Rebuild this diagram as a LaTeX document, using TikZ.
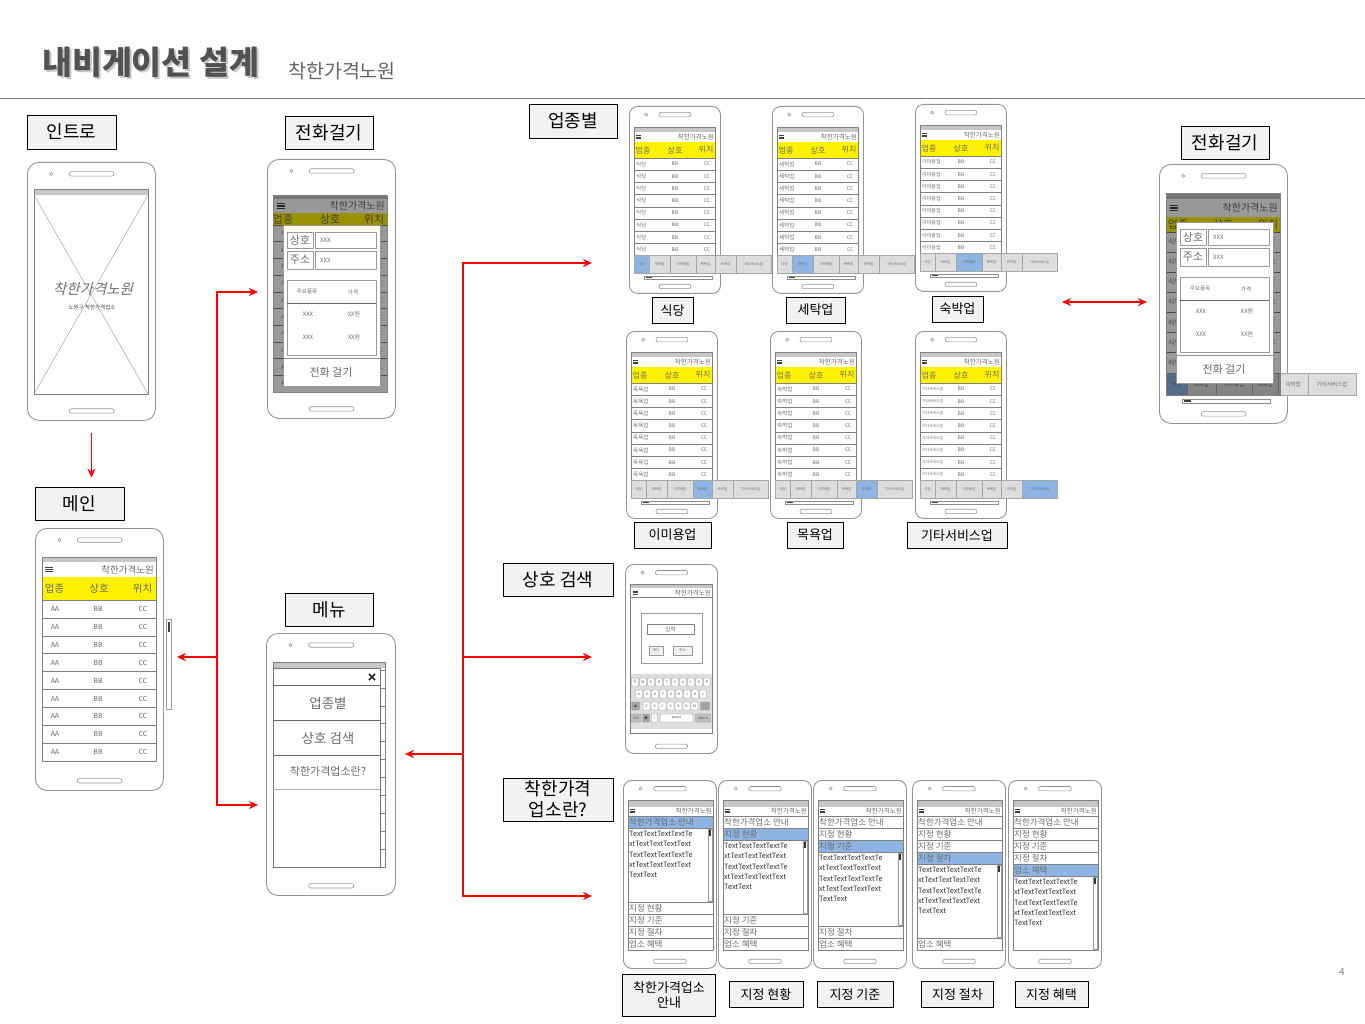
\documentclass[tikz,border=0pt]{standalone}
\usepackage{fontspec}
\setmainfont{Noto Sans CJK KR}
\newfontfamily\krslant[FakeSlant=0.25]{Noto Sans CJK KR}
\usetikzlibrary{arrows.meta, positioning}
\definecolor{hiblue}{RGB}{141,180,226}
\definecolor{tabgray}{RGB}{221,221,221}
\colorlet{framegray}{black!42}
\colorlet{txtgray}{black!58}
\newcommand{\kfs}[1]{\fontsize{#1}{#1}\selectfont}

\tikzset{
  tagbox/.style={draw=black, fill=black!5, line width=0.7pt, inner sep=0pt, align=center, font=\fontsize{18}{21}\selectfont},
  smalltag/.style={tagbox, font=\fontsize{13}{15}\selectfont},
  phonebody/.style={draw=framegray, line width=0.9pt, fill=white, inner sep=0pt},
  scr/.style={draw=black!50, line width=0.6pt},
  statbar/.style={fill=black!22},
  rowline/.style={draw=black!50, line width=0.5pt},
  rowtext/.style={text=txtgray, inner sep=0pt},
  keycap/.style={draw=black!45, fill=white, line width=0.3pt, rounded corners=0.8pt, minimum width=7pt, minimum height=8pt, inner sep=0pt, text=black!70, font=\kfs{3.5}},
  navtip/.tip={Stealth[length=9pt, width=8pt]},
  navline/.style={draw=red, line width=1.8pt},
  navarrow/.style={navline, -navtip},
}

% phone outline: name, x, y, width, height
\newcommand{\phoneframe}[5]{%
  \node[phonebody, rounded corners=#4*0.09pt, anchor=north west, minimum width=#4pt, minimum height=#5pt] (#1) at (#2,#3) {};
  \begin{scope}[shift={(#2,#3)}, framegray, line width=0.6pt]
    \draw (0.19*#4,0.046*#5) circle (1.6);
    \draw[rounded corners=2pt] (0.33*#4,0.046*#5-2.2) rectangle (0.68*#4,0.046*#5+2.2);
    \draw[rounded corners=2pt] (0.33*#4,0.965*#5-2.2) rectangle (0.68*#4,0.965*#5+2.2);
  \end{scope}}

% hamburger icon: x, y, width
\newcommand{\menuicon}[3]{%
  \draw[black!75, line width=#3*0.13pt] (#1,#2-#3*0.3) -- ++(#3,0) (#1,#2) -- ++(#3,0) (#1,#2+#3*0.3) -- ++(#3,0);}

% category tabs: x, top, bottom, scale, active tab, font size
\newcommand{\tabbar}[6]{%
  \foreach \t/\a/\b [count=\k] in {식당/0/15, 세탁업/15/36, 이미용업/36/62, 목욕업/62/81, 숙박업/81/102, 기타서비스업/102/137} {
    \ifnum\k=#5\relax\def\tabfill{hiblue}\else\def\tabfill{tabgray}\fi
    \draw[draw=black!35, fill=\tabfill, line width=0.4pt] (#1+#4*\a,#2) rectangle (#1+#4*\b,#3);
    \node[rowtext, font=\kfs{#6}] at (#1+#4*\a/2+#4*\b/2,#2/2+#3/2) {\t};
  }}

% shop popup: x, y
\newcommand{\calldialog}[2]{%
  \begin{scope}[shift={(#1,#2)}]
    \draw[black!40, fill=white, line width=0.5pt] (0,0) rectangle (97,161);
    \draw[black!40, line width=0.6pt] (4,7) rectangle (30,23) (32,7) rectangle (93,23)
      (4,26) rectangle (30,44) (32,26) rectangle (93,44) (4,55) rectangle (93,130);
    \draw[black!60, line width=0.6pt] (4,78) -- (93,78);
    \draw[black!45, line width=0.6pt] (0,133) -- (97,133);
    \node[rowtext, font=\kfs{11}] at (17,15) {상호};
    \node[rowtext, font=\kfs{11}] at (17,35) {주소};
    \foreach \y in {15,35} \node[rowtext, anchor=west, font=\kfs{6}] at (37,\y) {XXX};
    \node[rowtext, font=\kfs{5.5}] at (24,67) {주요품목};
    \node[rowtext, font=\kfs{5.5}] at (70,67) {가격};
    \foreach \y in {89,112} {
      \node[rowtext, font=\kfs{6}] at (25,\y) {XXX};
      \node[rowtext, font=\kfs{6}] at (71,\y) {XX원};
    }
    \node[rowtext, font=\kfs{11}] at (48,147) {전화 걸기};
  \end{scope}}

% category list phone: name, x, y, row text, active tab, row font size
\newcommand{\catphone}[6]{%
  \phoneframe{#1}{#2}{#3}{91}{187}
  \begin{scope}[shift={(#2,#3)}]
    \fill[statbar] (5,21) rectangle (86,26);
    \menuicon{7}{31}{5}
    \node[rowtext, anchor=east, font=\kfs{6.5}] at (85,31) {착한가격노원};
    \fill[yellow] (5,36) rectangle (86,52);
    \foreach \t/\x in {업종/14, 상호/46, 위치/77} \node[rowtext, font=\kfs{8}] at (\x,44) {\t};
    \foreach \i in {0,...,7} {
      \draw[rowline] (5,52+12.2*\i) -- (86,52+12.2*\i);
      \node[rowtext, anchor=west, font=\kfs{#6}] at (7,58.1+12.2*\i) {#4};
      \node[rowtext, font=\kfs{5}] at (46,58.1+12.2*\i) {BB};
      \node[rowtext, font=\kfs{5}] at (78,58.1+12.2*\i) {CC};
    }
    \draw[scr] (5,21) rectangle (86,149.6);
    \tabbar{5}{149.6}{167}{1}{#5}{3.5}
    \draw[black!45, line width=0.4pt] (15,170) rectangle (83,173);
    \fill[black!75] (17,170.8) rectangle (23,172.2);
  \end{scope}}

% info phone: name, x, y, open item
\newcommand{\infophone}[4]{%
  \phoneframe{#1}{#2}{#3}{93}{188}
  \begin{scope}[shift={(#2,#3)}]
    \fill[statbar] (5,20) rectangle (90,27);
    \menuicon{7}{31}{5}
    \node[rowtext, anchor=east, font=\kfs{6.5}] at (89,31) {착한가격노원};
    \foreach \t [count=\i] in {착한가격업소 안내, 지정 현황, 지정 기준, 지정 절차, 업소 혜택} {
      \pgfmathsetmacro\itemtop{36+12*(\i-1)+74*(\i>#4)}
      \ifnum\i=#4\relax\def\itemfill{hiblue}\else\def\itemfill{white}\fi
      \draw[rowline, fill=\itemfill] (5,\itemtop) rectangle (90,\itemtop+12);
      \node[rowtext, anchor=west, font=\kfs{8.5}] at (6,\itemtop+6) {\t};
    }
    \pgfmathsetmacro\areatop{36+12*#4}
    \node[anchor=north west, align=left, inner sep=0pt, text=black!80, font=\fontsize{7.3}{10.3}\selectfont] at (6,\areatop+3) {TextTextTextTextTe\\xtTextTextTextText\\TextTextTextTextTe\\xtTextTextTextText\\TextText};
    \draw[black!40, line width=0.4pt] (85.5,\areatop+1) rectangle (89,\areatop+73);
    \fill[black!80] (86.3,\areatop+2) rectangle (88.2,\areatop+8);
    \draw[scr] (5,20) rectangle (90,170);
  \end{scope}}

\begin{document}
\begin{tikzpicture}[x=1pt, y=-1pt, line join=round]
\useasboundingbox (0,0) rectangle (1365,1024);
\fill[white] (0,0) rectangle (1365,1024);

% title
\node[anchor=west, inner sep=0pt, font=\bfseries\kfs{32.5}, text=black!22] at (44,64) {내비게이션 설계};
\node[anchor=west, inner sep=0pt, font=\bfseries\kfs{32.5}, text=black!68] (title) at (42,62) {내비게이션 설계};
\node[anchor=west, inner sep=0pt, font=\kfs{19.5}, text=black!60] (subtitle) at (288,71) {착한가격노원};
\draw[black!50, line width=1pt] (0,99) -- (1365,99);
\node[font=\kfs{10}, text=black!50] (pageno) at (1342,972) {4};

% screen labels
\node[tagbox, minimum width=89pt, minimum height=34pt] (introlbl) at (71.5,132) {인트로};
\node[tagbox, minimum width=88pt, minimum height=33pt] (calllbl) at (329,132.5) {전화걸기};
\node[tagbox, minimum width=89pt, minimum height=33pt] (mainlbl) at (79.5,503.5) {메인};
\node[tagbox, minimum width=88pt, minimum height=33pt] (menulbl) at (329,609.5) {메뉴};
\node[tagbox, minimum width=88pt, minimum height=34pt] (catlbl) at (573,121) {업종별};
\node[tagbox, minimum width=88pt, minimum height=33pt] (calllblR) at (1225,142.5) {전화걸기};
\node[tagbox, minimum width=110pt, minimum height=33pt] (searchlbl) at (558,579.5) {상호 검색};
\node[tagbox, minimum width=110pt, minimum height=43pt] (infolbl) at (558,799.5) {착한가격\\업소란?};
\foreach \n/\x/\y/\w/\t in {lblA/672.5/310.5/41/식당, lblB/815.5/310/59/세탁업, lblC/957.5/309/51/숙박업, lblD/672.5/535/77/이미용업, lblE/815/535/56/목욕업, lblF/957/535.5/100/기타서비스업}
  \node[smalltag, minimum width=\w pt, minimum height=26pt] (\n) at (\x,\y) {\t};
\node[smalltag, minimum width=93pt, minimum height=42pt] (infolblA) at (669,995) {착한가격업소\\안내};
\foreach \n/\x/\w/\t in {infolblB/766/74/지정 현황, infolblC/855/76/지정 기준, infolblD/957.5/72/지정 절차, infolblE/1051.5/73/지정 혜택}
  \node[smalltag, minimum width=\w pt, minimum height=26pt] (\n) at (\x,994.5) {\t};

% intro
\phoneframe{intro}{27}{162}{128}{258}
\fill[statbar] (34,189) rectangle (148,195);
\draw[black!35, line width=0.5pt] (34,195) -- (148,394) (148,195) -- (34,394);
\draw[scr] (34,189) rectangle (148,394);
\node[font=\krslant\kfs{14.5}, text=black!55, inner sep=0pt] (introtitle) at (93,289) {착한가격노원};
\node[font=\kfs{5.5}, text=black!75, inner sep=0pt] (introsub) at (92,307) {노원구 착한가격업소};

% main
\phoneframe{mainph}{35}{528}{128}{262}
\fill[statbar] (42,557) rectangle (156,562);
\menuicon{45}{569.5}{8}
\node[rowtext, anchor=east, font=\kfs{9.5}] at (154,570) {착한가격노원};
\fill[yellow] (42,577) rectangle (156,600);
\foreach \t/\x in {업종/54.5, 상호/99, 위치/142.5} \node[rowtext, font=\kfs{10.5}] at (\x,588.5) {\t};
\foreach \i in {0,...,8} {
  \draw[rowline] (42,600+17.9*\i) -- (156,600+17.9*\i);
  \node[rowtext, font=\kfs{7}] at (55,609+17.9*\i) {AA};
  \node[rowtext, font=\kfs{7}] at (98,609+17.9*\i) {BB};
  \node[rowtext, font=\kfs{7}] at (143,609+17.9*\i) {CC};
}
\draw[scr] (42,557) rectangle (156,761);
\draw[black!40, line width=0.5pt] (166,619) rectangle (171,709);
\fill[black!75] (167.5,622) rectangle (169.5,632);

% call (left)
\phoneframe{callL}{267}{159}{128}{259}
\fill[statbar] (273,195) rectangle (387,199);
\menuicon{277}{206}{8}
\node[rowtext, anchor=east, font=\kfs{10}] at (385,206) {착한가격노원};
\fill[yellow] (273,213) rectangle (387,225);
\foreach \t/\x in {업종/283, 상호/330, 위치/374} \node[rowtext, font=\kfs{11}] at (\x,219) {\t};
\foreach \i in {0,...,9} {
  \draw[rowline] (273,225+16.7*\i) -- (387,225+16.7*\i);
  \node[rowtext, font=\kfs{6}] at (285,233.4+16.7*\i) {AA};
  \node[rowtext, font=\kfs{6}] at (379,233.4+16.7*\i) {CC};
}
\fill[black, opacity=0.4] (273,195) rectangle (387,392);
\draw[scr] (273,195) rectangle (387,392);
\calldialog{283}{225}

% menu
\phoneframe{menuph}{266}{633}{129}{262}
\fill[statbar] (273,662) rectangle (385,668);
\foreach \i in {0,...,10} \draw[rowline] (380,670+17.9*\i) -- (385,670+17.9*\i);
\draw[scr] (273,662) rectangle (385,867);
\draw[black!55, fill=white, line width=0.6pt] (273,668) rectangle (380,867);
\draw[black!85, line width=1.5pt] (369,674) -- (375,680) (369,680) -- (375,674);
\draw[black!60, line width=0.7pt] (273,685) -- (380,685) (273,720) -- (380,720) (273,755) -- (380,755);
\draw[black!30, line width=0.7pt] (273,789) -- (380,789);
\node[rowtext, font=\kfs{13.5}] (menuA) at (328,703) {업종별};
\node[rowtext, font=\kfs{13.5}] (menuB) at (328,738) {상호 검색};
\node[rowtext, font=\kfs{11}] (menuC) at (328,771) {착한가격업소란?};

% categories
\catphone{catA}{629}{106}{식당}{1}{5.5}
\catphone{catB}{772}{106}{세탁업}{2}{5.5}
\catphone{catC}{915}{104}{이미용업}{3}{5}
\catphone{catD}{626}{331}{목욕업}{4}{5.5}
\catphone{catE}{770}{331}{숙박업}{5}{5.5}
\catphone{catF}{915}{331}{기타서비스업}{6}{3.8}

% call (right)
\phoneframe{callR}{1159}{164}{128}{259}
\fill[statbar] (1166,193) rectangle (1280,199);
\menuicon{1170}{208}{8}
\node[rowtext, anchor=east, font=\kfs{10}] at (1278,208) {착한가격노원};
\fill[yellow] (1166,217) rectangle (1280,232);
\foreach \t/\x in {업종/1178, 상호/1223, 위치/1268} \node[rowtext, font=\kfs{11}] at (\x,224.5) {\t};
\foreach \i in {0,...,6} {
  \draw[rowline] (1166,232+20.1*\i) -- (1280,232+20.1*\i);
  \node[rowtext, anchor=west, font=\kfs{7}] at (1168,242+20.1*\i) {식당};
  \node[rowtext, font=\kfs{6}] at (1272,242+20.1*\i) {CC};
}
\tabbar{1166}{373}{395}{1.39}{1}{5.5}
\fill[black, opacity=0.4] (1166,193) rectangle (1280,395);
\draw[scr] (1166,193) rectangle (1280,395);
\draw[black!45, line width=0.4pt] (1182,399) rectangle (1270,403);
\fill[black!75] (1184,400) rectangle (1191,402);
\calldialog{1176}{222}

% search
\phoneframe{searchph}{625}{564}{92}{189}
\fill[statbar] (630,584) rectangle (712,588);
\menuicon{633}{592.5}{5}
\node[rowtext, anchor=east, font=\kfs{6.5}] at (711,593) {착한가격노원};
\draw[rowline] (630,597) -- (712,597);
\draw[black!40, line width=0.6pt] (641,613) rectangle (702,663);
\draw[black!50, line width=0.6pt] (647,624) rectangle (694,634);
\node[rowtext, font=\kfs{5.5}] at (670.5,629) {입력};
\foreach \a/\b/\t in {649/663/확인, 673/692/취소} {
  \draw[black!40, fill=black!6, line width=0.4pt] (\a,646) rectangle (\b,655);
  \node[rowtext, font=\kfs{3.5}] at (\a/2+\b/2,650.5) {\t};
}
\fill[black!13] (630,674) rectangle (712,729);
\foreach \k [count=\i from 0] in {Q,W,E,R,T,Y,U,I,O,P} \node[keycap] at (635+8*\i,682) {\k};
\foreach \k [count=\i from 0] in {A,S,D,F,G,H,J,K,L} \node[keycap] at (639+8*\i,694) {\k};
\node[keycap, fill=black!35, minimum width=8pt] at (635.5,706) {▲};
\foreach \k [count=\i from 0] in {Z,X,C,V,B,N,M} \node[keycap] at (646.5+8*\i,706) {\k};
\node[keycap, fill=black!35, minimum width=9pt] at (705,706) {□};
\node[keycap, fill=black!25, minimum width=10pt] at (636,718) {123};
\node[keycap, fill=black!35] at (646,718) {●};
\node[keycap, minimum width=6pt] at (654.5,718) {|};
\node[keycap, minimum width=33pt] at (676.5,718) {space};
\node[keycap, fill=black!25, minimum width=15pt] at (703,718) {return};
\draw[scr] (630,584) rectangle (712,733);

% info pages
\infophone{infoA}{623}{780}{1}
\infophone{infoB}{718}{780}{2}
\infophone{infoC}{813}{780}{3}
\infophone{infoD}{912}{780}{4}
\infophone{infoE}{1008}{780}{5}

% navigation arrows
\draw[navarrow, shorten <=12pt, shorten >=9pt] (intro.south) -- (intro.south |- mainlbl.north);
\coordinate (ltop) at (217,292);
\coordinate (lmid) at (217,657);
\coordinate (lbot) at (217,805);
\draw[navline, line cap=rect] (ltop) -- (lbot);
\draw[navarrow, shorten >=9pt] (ltop) -- (ltop -| callL.west);
\draw[navarrow, shorten >=13pt] (lmid) -- (lmid -| mainph.east);
\draw[navarrow, shorten >=8pt] (lbot) -- (lbot -| menuph.west);
\coordinate (rtop) at (463,263);
\coordinate (rmid) at (463,657);
\coordinate (rback) at (463,754);
\coordinate (rbot) at (463,896);
\draw[navline, line cap=rect] (rtop) -- (rbot);
\draw[navarrow, shorten >=37pt] (rtop) -- (rtop -| catA.west);
\draw[navarrow, shorten >=33pt] (rmid) -- (rmid -| searchph.west);
\draw[navarrow, shorten >=9pt] (rback) -- (rback -| menuph.east);
\draw[navarrow, shorten >=31pt] (rbot) -- (rbot -| infoA.west);
\coordinate (swap) at (1062,302);
\draw[navline, navtip-navtip, shorten >=12pt] (swap) -- (swap -| callR.west);
\end{tikzpicture}
\end{document}
